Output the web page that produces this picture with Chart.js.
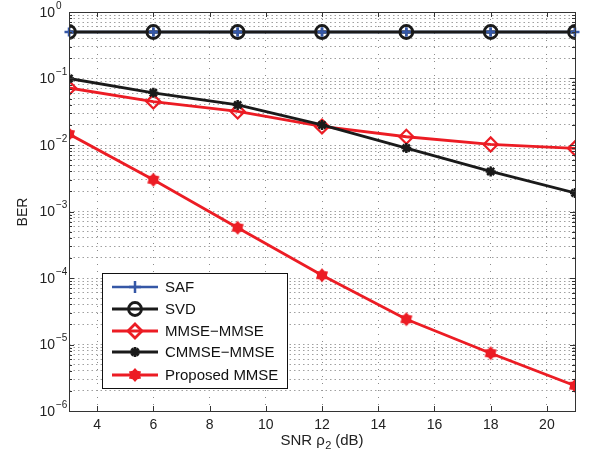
<!DOCTYPE html>
<html>
<head>
<meta charset="utf-8">
<script src="https://cdn.jsdelivr.net/npm/chart.js@4.4.1/dist/chart.umd.min.js"></script>
<style>
  html, body { margin: 0; padding: 0; background: #fff; }
  #wrap { width: 593px; height: 457px; }
</style>
</head>
<body>
<div id="wrap"><canvas id="ber"></canvas></div>
<script>
// SNR in dB
const snr = [3, 6, 9, 12, 15, 18, 21];
const xTicks = [4, 6, 8, 10, 12, 14, 16, 18, 20];
const yDecades = [0, -1, -2, -3, -4, -5, -6];

const safBer      = [0.5, 0.5, 0.5, 0.5, 0.5, 0.5, 0.5];
const svdBer      = [0.5, 0.5, 0.5, 0.5, 0.5, 0.5, 0.5];
const mmseBer     = [0.072, 0.045, 0.032, 0.019, 0.0133, 0.0102, 0.0089];
const cmmseBer    = [0.1, 0.061, 0.040, 0.020, 0.0090, 0.0040, 0.0019];
const proposedBer = [0.0146, 0.0030, 0.00057, 0.00011, 0.000024, 0.0000074, 0.0000024];

const RED = '#ec1c24';
const BLACK = '#1a1a1a';
const BLUE = '#3557a6';
const FONT = '"Liberation Sans", Arial, sans-serif';

// filled hexagram marker for the proposed scheme
function hexagram(r, color) {
    const c = document.createElement('canvas');
    const s = Math.ceil(r * 2 + 4);
    c.width = s; c.height = s;
    const g = c.getContext('2d');
    g.translate(s / 2, s / 2);
    g.fillStyle = color;
    g.beginPath();
    for (let i = 0; i < 12; i++) {
        const a = -Math.PI / 2 + i * Math.PI / 6;
        const rr = i % 2 === 0 ? r : r * 0.7;
        g.lineTo(Math.cos(a) * rr, Math.sin(a) * rr);
    }
    g.closePath();
    g.fill();
    return c;
}
const hexMark = hexagram(7, RED);

function pts(ys) { return snr.map((x, i) => ({ x: x, y: ys[i] })); }

const datasets = [
    { label: 'SAF', data: pts(safBer), borderColor: BLUE, backgroundColor: BLUE,
      pointStyle: 'cross', pointRadius: 4.5, borderWidth: 2.5, pointBorderWidth: 2.5, order: 5 },
    { label: 'SVD', data: pts(svdBer), borderColor: BLACK, backgroundColor: 'rgba(0,0,0,0)',
      pointStyle: 'circle', pointRadius: 6.5, borderWidth: 2.8, pointBorderWidth: 2.8, order: 4 },
    { label: 'MMSE\u2212MMSE', data: pts(mmseBer), borderColor: RED, backgroundColor: 'rgba(0,0,0,0)',
      pointStyle: 'rectRot', pointRadius: 7, borderWidth: 2.8, pointBorderWidth: 2.2, order: 3 },
    { label: 'CMMSE\u2212MMSE', data: pts(cmmseBer), borderColor: BLACK, backgroundColor: BLACK,
      pointStyle: 'star', pointRadius: 5, borderWidth: 2.8, pointBorderWidth: 2.5, order: 2 },
    { label: 'Proposed MMSE', data: pts(proposedBer), borderColor: RED, backgroundColor: RED,
      pointStyle: hexMark, pointRadius: 7, borderWidth: 2.8, order: 1 }
];

function drawMarker(ctx, ds, x, y, r) {
    ctx.strokeStyle = ds.borderColor;
    ctx.fillStyle = ds.backgroundColor;
    Chart.helpers.drawPoint(ctx, {
        pointStyle: ds.pointStyle, radius: r || ds.pointRadius, rotation: 0,
        borderWidth: ds.pointBorderWidth || 1
    }, x, y);
}

const matlabAxes = {
    id: 'matlabAxes',
    afterDatasetsDraw(chart) {
        // SAF crosses sit on top of the SVD circles
        const ctx = chart.ctx;
        const meta = chart.getDatasetMeta(0);
        const ds = chart.data.datasets[0];
        ctx.save();
        ctx.lineWidth = ds.pointBorderWidth;
        meta.data.forEach(p => drawMarker(ctx, ds, p.x, p.y));
        ctx.restore();
    },
    afterDraw(chart) {
        const ctx = chart.ctx;
        const a = chart.chartArea;
        const xs = chart.scales.x, ys = chart.scales.y;
        ctx.save();

        // box
        ctx.strokeStyle = '#333';
        ctx.lineWidth = 1;
        ctx.strokeRect(a.left + 0.5, a.top + 0.5, a.right - a.left, a.bottom - a.top);

        // inward ticks
        ctx.beginPath();
        xTicks.forEach(v => {
            const px = Math.round(xs.getPixelForValue(v)) + 0.5;
            ctx.moveTo(px, a.bottom); ctx.lineTo(px, a.bottom - 5);
            ctx.moveTo(px, a.top); ctx.lineTo(px, a.top + 5);
        });
        yDecades.forEach(d => {
            for (let m = 1; m <= 9; m++) {
                const v = m * Math.pow(10, d);
                if (v > 1.0001) continue;
                const py = Math.round(ys.getPixelForValue(v)) + 0.5;
                const len = m === 1 ? 5 : 3;
                ctx.moveTo(a.left, py); ctx.lineTo(a.left + len, py);
                ctx.moveTo(a.right, py); ctx.lineTo(a.right - len, py);
            }
        });
        ctx.stroke();

        // tick labels
        ctx.fillStyle = '#222';
        ctx.font = '14px ' + FONT;
        ctx.textAlign = 'center';
        ctx.textBaseline = 'middle';
        xTicks.forEach(v => ctx.fillText(String(v), xs.getPixelForValue(v), 425));

        yDecades.forEach(d => {
            const py = ys.getPixelForValue(Math.pow(10, d));
            ctx.font = '14px ' + FONT;
            ctx.textAlign = 'right';
            ctx.textBaseline = 'middle';
            ctx.fillText('10', 55, py + 1);
            ctx.font = '10px ' + FONT;
            ctx.textAlign = 'left';
            ctx.fillText(d === 0 ? '0' : '\u2212' + String(-d), 56, py - 6);
        });

        // axis titles
        ctx.textBaseline = 'alphabetic';
        ctx.textAlign = 'left';
        const p1 = 'SNR \u03c1', p2 = '2', p3 = ' (dB)';
        ctx.font = '15px ' + FONT;
        const w1 = ctx.measureText(p1).width, w3 = ctx.measureText(p3).width;
        ctx.font = '11px ' + FONT;
        const w2 = ctx.measureText(p2).width;
        let sx = 322 - (w1 + w2 + w3) / 2;
        ctx.font = '15px ' + FONT;
        ctx.fillText(p1, sx, 445);
        ctx.font = '11px ' + FONT;
        ctx.fillText(p2, sx + w1 + 0.5, 449);
        ctx.font = '15px ' + FONT;
        ctx.fillText(p3, sx + w1 + w2, 445);

        ctx.save();
        ctx.translate(27, 212);
        ctx.rotate(-Math.PI / 2);
        ctx.textAlign = 'center';
        ctx.font = '14px ' + FONT;
        ctx.fillText('BER', 0, 0);
        ctx.restore();

        // legend
        const lx = 102, ly = 273, lw = 185, lh = 115;
        ctx.fillStyle = '#fff';
        ctx.fillRect(lx, ly, lw, lh);
        ctx.strokeStyle = '#111';
        ctx.lineWidth = 1;
        ctx.strokeRect(lx + 0.5, ly + 0.5, lw, lh);
        const rows = [287, 309, 331, 352, 375];
        chart.data.datasets.forEach((ds, i) => {
            const y = rows[i];
            ctx.strokeStyle = ds.borderColor;
            ctx.lineWidth = ds.borderWidth;
            ctx.beginPath();
            ctx.moveTo(112, y); ctx.lineTo(158, y);
            ctx.stroke();
            drawMarker(ctx, ds, 135, y, i === 0 ? 6 : null);
            ctx.fillStyle = '#111';
            ctx.font = '15px ' + FONT;
            ctx.textAlign = 'left';
            ctx.textBaseline = 'middle';
            ctx.fillText(ds.label, 165, y + 1);
        });

        ctx.restore();
    }
};

new Chart(document.getElementById('ber'), {
    type: 'line',
    data: { datasets: datasets },
    options: {
        responsive: true,
        maintainAspectRatio: false,
        animation: false,
        layout: { padding: { left: 69, top: 12, right: 18, bottom: 46 } },
        plugins: { legend: { display: false }, tooltip: { enabled: false } },
        scales: {
            x: {
                type: 'linear', min: 3, max: 21,
                afterBuildTicks: s => { s.ticks = xTicks.map(v => ({ value: v })); },
                ticks: { display: false },
                border: { display: false, dash: [1, 6] },
                grid: { color: '#8a8a8a', lineWidth: 1, drawTicks: false }
            },
            y: {
                type: 'logarithmic', min: 1e-6, max: 1,
                afterBuildTicks: s => {
                    const t = [];
                    yDecades.forEach(d => {
                        for (let m = 1; m <= 9; m++) {
                            const v = m * Math.pow(10, d);
                            if (v <= 1.0001) t.push({ value: v });
                        }
                    });
                    s.ticks = t;
                },
                ticks: { display: false },
                border: { display: false, dash: [1.5, 3] },
                grid: { color: '#a0a0a0', lineWidth: 1, drawTicks: false }
            }
        }
    },
    plugins: [matlabAxes]
});
</script>
</body>
</html>
